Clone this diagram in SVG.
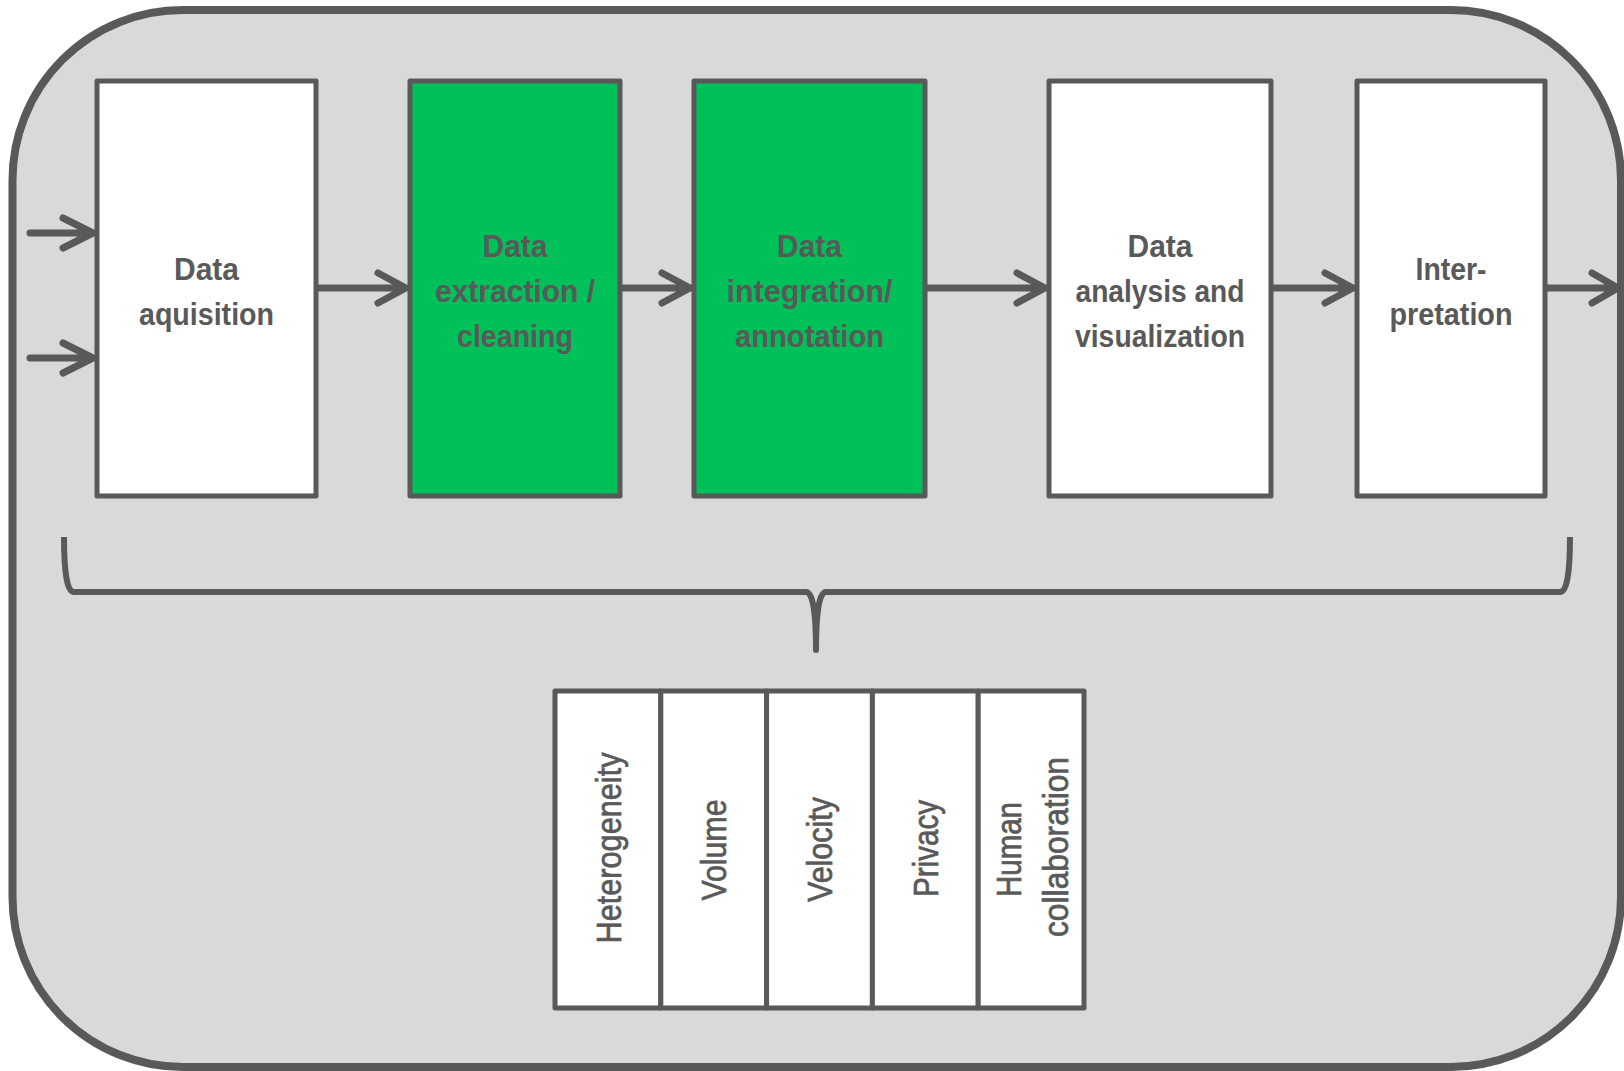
<svg xmlns="http://www.w3.org/2000/svg" width="1624" height="1071" viewBox="0 0 1624 1071">
<defs>
<style>
.frame{fill:#D9D9D9;stroke:#595959;stroke-width:8}
.box{fill:#FFFFFF;stroke:#595959;stroke-width:5;stroke-linejoin:round}
.green{fill:#00C05A}
.lbl{font-family:"Liberation Sans",Arial,sans-serif;font-size:32px;font-weight:bold;fill:#595959;text-anchor:middle}
.vlbl{font-family:"Liberation Sans",Arial,sans-serif;font-size:35px;fill:#595959;stroke:#595959;stroke-width:0.7;text-anchor:middle}
.conn{fill:none;stroke:#595959;stroke-width:7;stroke-linecap:round;stroke-linejoin:round}
.brace{fill:none;stroke:#595959;stroke-width:6;stroke-linejoin:round}
</style>
</defs>
<rect x="0" y="0" width="1624" height="1071" fill="#FFFFFF"/>
<rect id="frame" class="frame" x="12.5" y="10" width="1608.5" height="1057" rx="170" ry="170"/>

<g id="node-acquisition">
<rect class="box" x="97" y="81" width="219" height="415"/>
<text class="lbl" x="206.5" y="280" textLength="65" lengthAdjust="spacingAndGlyphs">Data</text>
<text class="lbl" x="206.5" y="325" textLength="135" lengthAdjust="spacingAndGlyphs">aquisition</text>
</g>
<g id="node-extraction">
<rect class="box green" x="410" y="81" width="210" height="415"/>
<text class="lbl" x="515" y="257" textLength="65" lengthAdjust="spacingAndGlyphs">Data</text>
<text class="lbl" x="515" y="302" textLength="160" lengthAdjust="spacingAndGlyphs">extraction /</text>
<text class="lbl" x="515" y="347" textLength="116" lengthAdjust="spacingAndGlyphs">cleaning</text>
</g>
<g id="node-integration">
<rect class="box green" x="694" y="81" width="231" height="415"/>
<text class="lbl" x="809.5" y="257" textLength="65" lengthAdjust="spacingAndGlyphs">Data</text>
<text class="lbl" x="809.5" y="302" textLength="166" lengthAdjust="spacingAndGlyphs">integration/</text>
<text class="lbl" x="809.5" y="347" textLength="149" lengthAdjust="spacingAndGlyphs">annotation</text>
</g>
<g id="node-analysis">
<rect class="box" x="1049" y="81" width="222" height="415"/>
<text class="lbl" x="1160" y="257" textLength="65" lengthAdjust="spacingAndGlyphs">Data</text>
<text class="lbl" x="1160" y="302" textLength="169" lengthAdjust="spacingAndGlyphs">analysis and</text>
<text class="lbl" x="1160" y="347" textLength="170" lengthAdjust="spacingAndGlyphs">visualization</text>
</g>
<g id="node-interpretation">
<rect class="box" x="1357" y="81" width="188" height="415"/>
<text class="lbl" x="1451" y="280" textLength="71" lengthAdjust="spacingAndGlyphs">Inter-</text>
<text class="lbl" x="1451" y="325" textLength="123" lengthAdjust="spacingAndGlyphs">pretation</text>
</g>

<g id="connectors">
<path class="conn" d="M30 233 H93 M63 218 L93 233 L63 248"/>
<path class="conn" d="M30 358 H93 M63 343 L93 358 L63 373"/>
<path class="conn" d="M318 288 H406 M378 273 L406 288 L378 303"/>
<path class="conn" d="M622 288 H690 M662 273 L690 288 L662 303"/>
<path class="conn" d="M927 288 H1045 M1017 273 L1045 288 L1017 303"/>
<path class="conn" d="M1273 288 H1353 M1325 273 L1353 288 L1325 303"/>
<path class="conn" d="M1547 288 H1618 M1592 273 L1618 288 L1592 303"/>
<path id="brace" class="brace" d="M64 537 Q64 592 74 592 H806 Q816 592 816 650 Q816 592 826 592 H1560 Q1570 592 1570 537"/>
</g>

<g id="node-challenges">
<g id="cell-heterogeneity">
<rect class="box" x="555" y="691" width="105.8" height="317"/>
<text class="vlbl" transform="translate(620.5 848) rotate(-90)" textLength="191" lengthAdjust="spacingAndGlyphs">Heterogeneity</text>
</g>
<g id="cell-volume">
<rect class="box" x="660.8" y="691" width="105.8" height="317"/>
<text class="vlbl" transform="translate(726 850) rotate(-90)" textLength="101" lengthAdjust="spacingAndGlyphs">Volume</text>
</g>
<g id="cell-velocity">
<rect class="box" x="766.6" y="691" width="105.8" height="317"/>
<text class="vlbl" transform="translate(832 849.5) rotate(-90)" textLength="105" lengthAdjust="spacingAndGlyphs">Velocity</text>
</g>
<g id="cell-privacy">
<rect class="box" x="872.4" y="691" width="105.8" height="317"/>
<text class="vlbl" transform="translate(938 848.5) rotate(-90)" textLength="97" lengthAdjust="spacingAndGlyphs">Privacy</text>
</g>
<g id="cell-human">
<rect class="box" x="978.2" y="691" width="105.8" height="317"/>
<text class="vlbl" transform="translate(1021 849.5) rotate(-90)" textLength="95" lengthAdjust="spacingAndGlyphs">Human</text>
<text class="vlbl" transform="translate(1068 847) rotate(-90)" textLength="180" lengthAdjust="spacingAndGlyphs">collaboration</text>
</g>
</g>
</svg>
